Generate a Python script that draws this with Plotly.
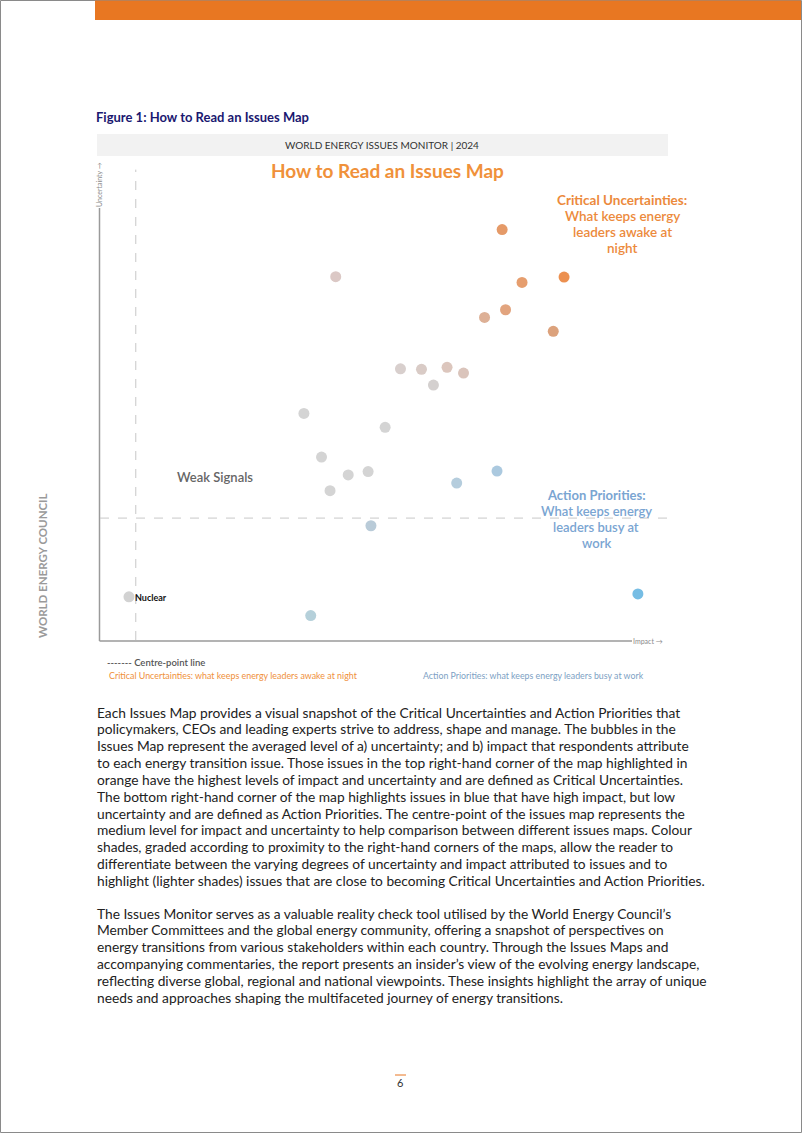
import plotly.graph_objects as go

W, H = 802, 1133

# issues map values (impact, uncertainty on a 0-100 scale)
impact = [70.8, 41.5, 74.3, 81.7, 67.7, 71.4, 79.8, 52.9, 56.6, 61.1, 64.0, 58.7,
          35.9, 50.2, 39.0, 43.7, 47.2, 40.5, 62.8, 69.9, 47.7, 94.7, 37.1, 5.1]
uncertainty = [85.5, 75.7, 74.5, 75.6, 67.2, 68.8, 64.3, 56.5, 56.4, 56.8, 55.6, 53.1,
               47.2, 44.3, 38.1, 34.4, 35.1, 31.1, 32.7, 35.2, 23.8, 9.6, 5.1, 9.0]
bubble_colors = ["#e59a68", "#dbc8c5", "#e69e6e", "#ec9050", "#ddb096", "#e2a47e",
                 "#dca27c", "#d8cfcd", "#d9cbc6", "#dcc6bd", "#dac4bb", "#d4d0cf",
                 "#d4d4d4", "#d4d4d4", "#d4d4d4", "#d4d4d4", "#d4d4d4", "#d4d4d4",
                 "#b5cddd", "#abc9df", "#b9cbd8", "#76bde4", "#b5d0da", "#d2d2d2"]
labels = [""] * 23 + ["Nuclear"]
centre_impact = 6.3
centre_uncertainty = 25.4

body_p1 = [
    "Each Issues Map provides a visual snapshot of the Critical Uncertainties and Action Priorities that",
    "policymakers, CEOs and leading experts strive to address, shape and manage. The bubbles in the",
    "Issues Map represent the averaged level of a) uncertainty; and b) impact that respondents attribute",
    "to each energy transition issue. Those issues in the top right-hand corner of the map highlighted in",
    "orange have the highest levels of impact and uncertainty and are defined as Critical Uncertainties.",
    "The bottom right-hand corner of the map highlights issues in blue that have high impact, but low",
    "uncertainty and are defined as Action Priorities. The centre-point of the issues map represents the",
    "medium level for impact and uncertainty to help comparison between different issues maps. Colour",
    "shades, graded according to proximity to the right-hand corners of the maps, allow the reader to",
    "differentiate between the varying degrees of uncertainty and impact attributed to issues and to",
    "highlight (lighter shades) issues that are close to becoming Critical Uncertainties and Action Priorities.",
]
body_p2 = [
    "The Issues Monitor serves as a valuable reality check tool utilised by the World Energy Council\u2019s",
    "Member Committees and the global energy community, offering a snapshot of perspectives on",
    "energy transitions from various stakeholders within each country. Through the Issues Maps and",
    "accompanying commentaries, the report presents an insider\u2019s view of the evolving energy landscape,",
    "reflecting diverse global, regional and national viewpoints. These insights highlight the array of unique",
    "needs and approaches shaping the multifaceted journey of energy transitions.",
]


def px(x):
    return x / W


def py(y):
    return 1 - y / H


fig = go.Figure()
fig.add_trace(
    go.Scatter(
        x=impact,
        y=uncertainty,
        mode="markers",
        marker=dict(size=11, color=bubble_colors, line=dict(width=0)),
        text=labels,
        hoverinfo="skip",
        showlegend=False,
    )
)

shapes = [
    # page border and top bar
    dict(type="rect", xref="paper", yref="paper", x0=px(0.5), x1=px(801.5), y0=py(1132.5), y1=py(0.5),
         line=dict(color="#8a8a8a", width=1)),
    dict(type="rect", xref="paper", yref="paper", x0=px(95), x1=px(801), y0=py(20), y1=py(0.5),
         fillcolor="#e87722", line=dict(width=0)),
    # grey banner
    dict(type="rect", xref="paper", yref="paper", x0=px(97), x1=px(668), y0=py(156), y1=py(134),
         fillcolor="#f2f2f2", line=dict(width=0)),
    # axis lines
    dict(type="line", xref="paper", yref="paper", x0=px(99.5), x1=px(99.5), y0=py(641), y1=py(208),
         line=dict(color="#9a9a9a", width=1.5)),
    dict(type="line", xref="paper", yref="paper", x0=px(99.5), x1=px(632), y0=py(641), y1=py(641),
         line=dict(color="#9a9a9a", width=1.5)),
    # centre-point lines
    dict(type="line", xref="x", yref="y", x0=centre_impact, x1=centre_impact, y0=0, y1=98,
         line=dict(color="#c8c8c8", width=1, dash="dash")),
    dict(type="line", xref="x", yref="y", x0=0, x1=100, y0=centre_uncertainty, y1=centre_uncertainty,
         line=dict(color="#c8c8c8", width=1, dash="dash")),
    # page number mark
    dict(type="line", xref="paper", yref="paper", x0=px(395), x1=px(406), y0=py(1075), y1=py(1075),
         line=dict(color="#e87722", width=1)),
]

ann = []


def text(x, y, s, size, color, family="Lato", xanchor="left", bold=False, angle=0):
    if bold:
        s = "<b>" + s + "</b>"
    if xanchor == "left":
        x -= 3  # annotation padding
    ann.append(dict(x=px(x), y=py(y), xref="paper", yref="paper", text=s, showarrow=False,
                    xanchor=xanchor, yanchor="middle", textangle=angle,
                    font=dict(size=size, color=color, family=family)))


text(97, 117, "Figure 1: How to Read an Issues Map", 13, "#1a1870", bold=True)
text(382, 145, "WORLD ENERGY ISSUES MONITOR | 2024", 10, "#333333", xanchor="center")
text(387, 171, "How to Read an Issues Map", 19, "#f0913a", xanchor="center", bold=True)

orange = "#ec8a3c"
text(622, 200, "Critical Uncertainties:", 13.5, orange, xanchor="center", bold=True)
for i, s in enumerate(["What keeps energy", "leaders awake at", "night"]):
    text(622, 216 + 16 * i, s, 13.5, orange, xanchor="center", family="Lato Semibold, Lato")

blue = "#7aa5d2"
text(596, 495, "Action Priorities:", 13, blue, xanchor="center", bold=True)
for i, s in enumerate(["What keeps energy", "leaders busy at", "work"]):
    text(596, 511 + 16 * i, s, 13, blue, xanchor="center", family="Lato Semibold, Lato")

text(178, 477, "Weak Signals", 13, "#666666", family="Lato Semibold, Lato")
text(136, 597, "Nuclear", 9, "#111111", bold=True)
text(634, 641, "Impact \u2192", 7, "#8a8a8a")
text(99, 185, "Uncertainty \u2192", 7, "#8a8a8a", xanchor="center", angle=-90)

text(108, 662, "------- Centre-point line", 9.5, "#555555", family="Lato Semibold, Lato")
text(110, 675, "Critical Uncertainties: what keeps energy leaders awake at night", 8.9, "#ef8f3a")
text(424, 675, "Action Priorities: what keeps energy leaders busy at work", 8.8, "#7d9fc4")

text(42, 566, "WORLD ENERGY COUNCIL", 11.5, "#9a9a9a", xanchor="center", bold=True, angle=-90)

for i, s in enumerate(body_p1):
    text(98, 712 + 16.85 * i, s, 13.75, "#222222", family="Lato")
for i, s in enumerate(body_p2):
    text(98, 913 + 16.9 * i, s, 13.75, "#222222", family="Lato")

text(400, 1082, "6", 11, "#333333", xanchor="center")

fig.update_layout(
    width=W,
    height=H,
    margin=dict(l=0, r=0, t=0, b=0),
    paper_bgcolor="white",
    plot_bgcolor="white",
    shapes=shapes,
    annotations=ann,
    xaxis=dict(domain=[px(100), px(668)], range=[0, 100], visible=False, fixedrange=True),
    yaxis=dict(domain=[py(640), py(160)], range=[0, 100], visible=False, fixedrange=True),
    font=dict(family="Lato"),
)

fig.write_html("out.html", config={"displayModeBar": False},
               post_script="document.body.style.margin='0';")
